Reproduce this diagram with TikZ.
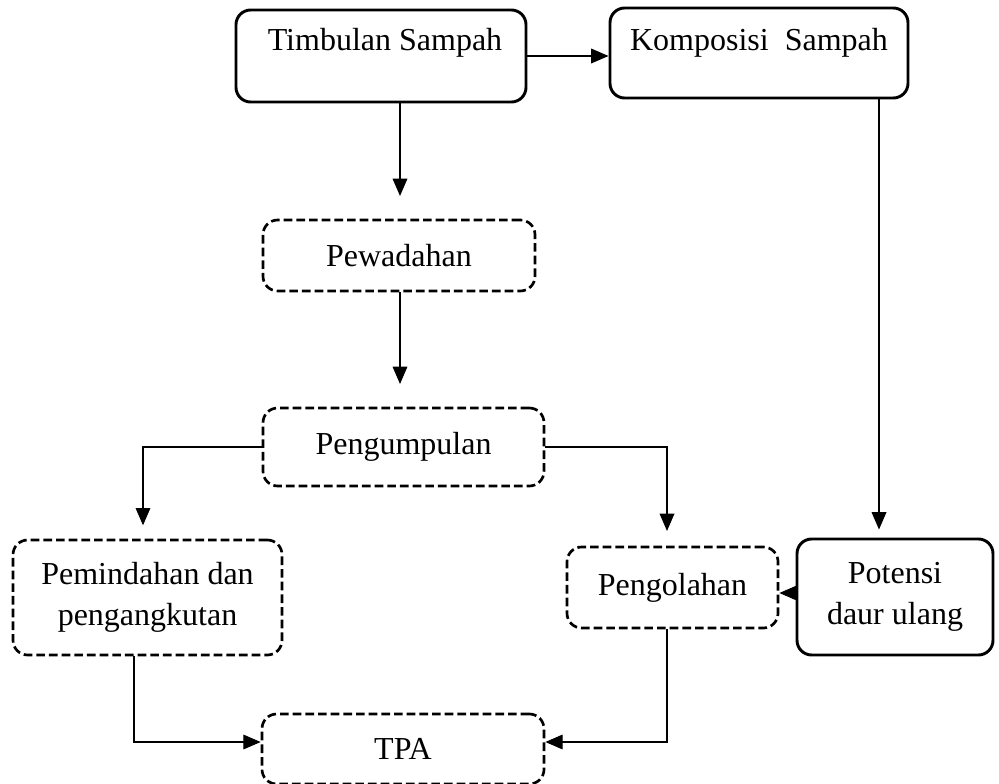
\documentclass[tikz,border=0pt]{standalone}
\usepackage{fontspec}
\setmainfont{Liberation Serif}
\usetikzlibrary{arrows.meta}
\begin{document}
\begin{tikzpicture}[x=0.75pt,y=-0.75pt,
  solidbox/.style={draw,line width=2.2pt,rounded corners=11pt,inner sep=0pt},
  dashbox/.style={draw,line width=2pt,rounded corners=11pt,inner sep=0pt,dash pattern=on 6.5pt off 3pt},
  txt/.style={font=\fontsize{24}{30.5}\selectfont,align=center,inner sep=0pt},
  conn/.style={line width=0.9pt,-{Triangle[length=13pt,width=11pt]}},
  line/.style={line width=0.9pt}]
\useasboundingbox (0,0) rectangle (999,784);
% boxes
\node[solidbox,minimum width=290*0.75pt,minimum height=92*0.75pt] (tim) at (381,56) {};
\node[txt] (timt) at (385,43) {Timbulan Sampah};
\node[solidbox,minimum width=298*0.75pt,minimum height=90*0.75pt] (kom) at (759,53) {};
\node[txt] (komt) at (759,43) {Komposisi\ \ Sampah};
\node[dashbox,txt,minimum width=272*0.75pt,minimum height=71*0.75pt] (pew) at (399,255.5) {Pewadahan};
\node[dashbox,txt,minimum width=281*0.75pt,minimum height=78*0.75pt] (peng) at (403.5,447) {Pengumpulan};
\node[dashbox,txt,minimum width=269*0.75pt,minimum height=115*0.75pt] (pem) at (147.5,597.5) {Pemindahan dan\\pengangkutan};
\node[dashbox,txt,minimum width=211*0.75pt,minimum height=81*0.75pt] (olah) at (672.5,587.5) {Pengolahan};
\node[solidbox,txt,minimum width=196*0.75pt,minimum height=116*0.75pt] (pot) at (895,597) {Potensi\\daur ulang};
\node[dashbox,txt,minimum width=282*0.75pt,minimum height=70*0.75pt] (tpa) at (403,749) {TPA};
% connectors
\draw[conn] (tim.east) -- (kom.west |- tim.east);
\draw[conn,shorten >=17pt] (tim.south -| 400,0) -- (pew.north -| 400,0);
\draw[conn,shorten >=17pt] (pew.south -| 400,0) -- (peng.north -| 400,0);
\draw[conn,shorten >=10pt] (peng.west) -| (pem.north -| 143,0);
\draw[conn,shorten >=11pt] (peng.east) -| (olah.north -| 667,0);
\draw[conn,shorten >=6pt] (kom.south -| 879,0) -- (pot.north -| 879,0);
\draw[conn] (pot.west |- 0,593) -- (olah.east |- 0,593);
\draw[conn] (pem.south -| 134,0) |- (tpa.west |- 0,742);
\draw[conn] (olah.south -| 667,0) |- (tpa.east |- 0,742);
\end{tikzpicture}
\end{document}
